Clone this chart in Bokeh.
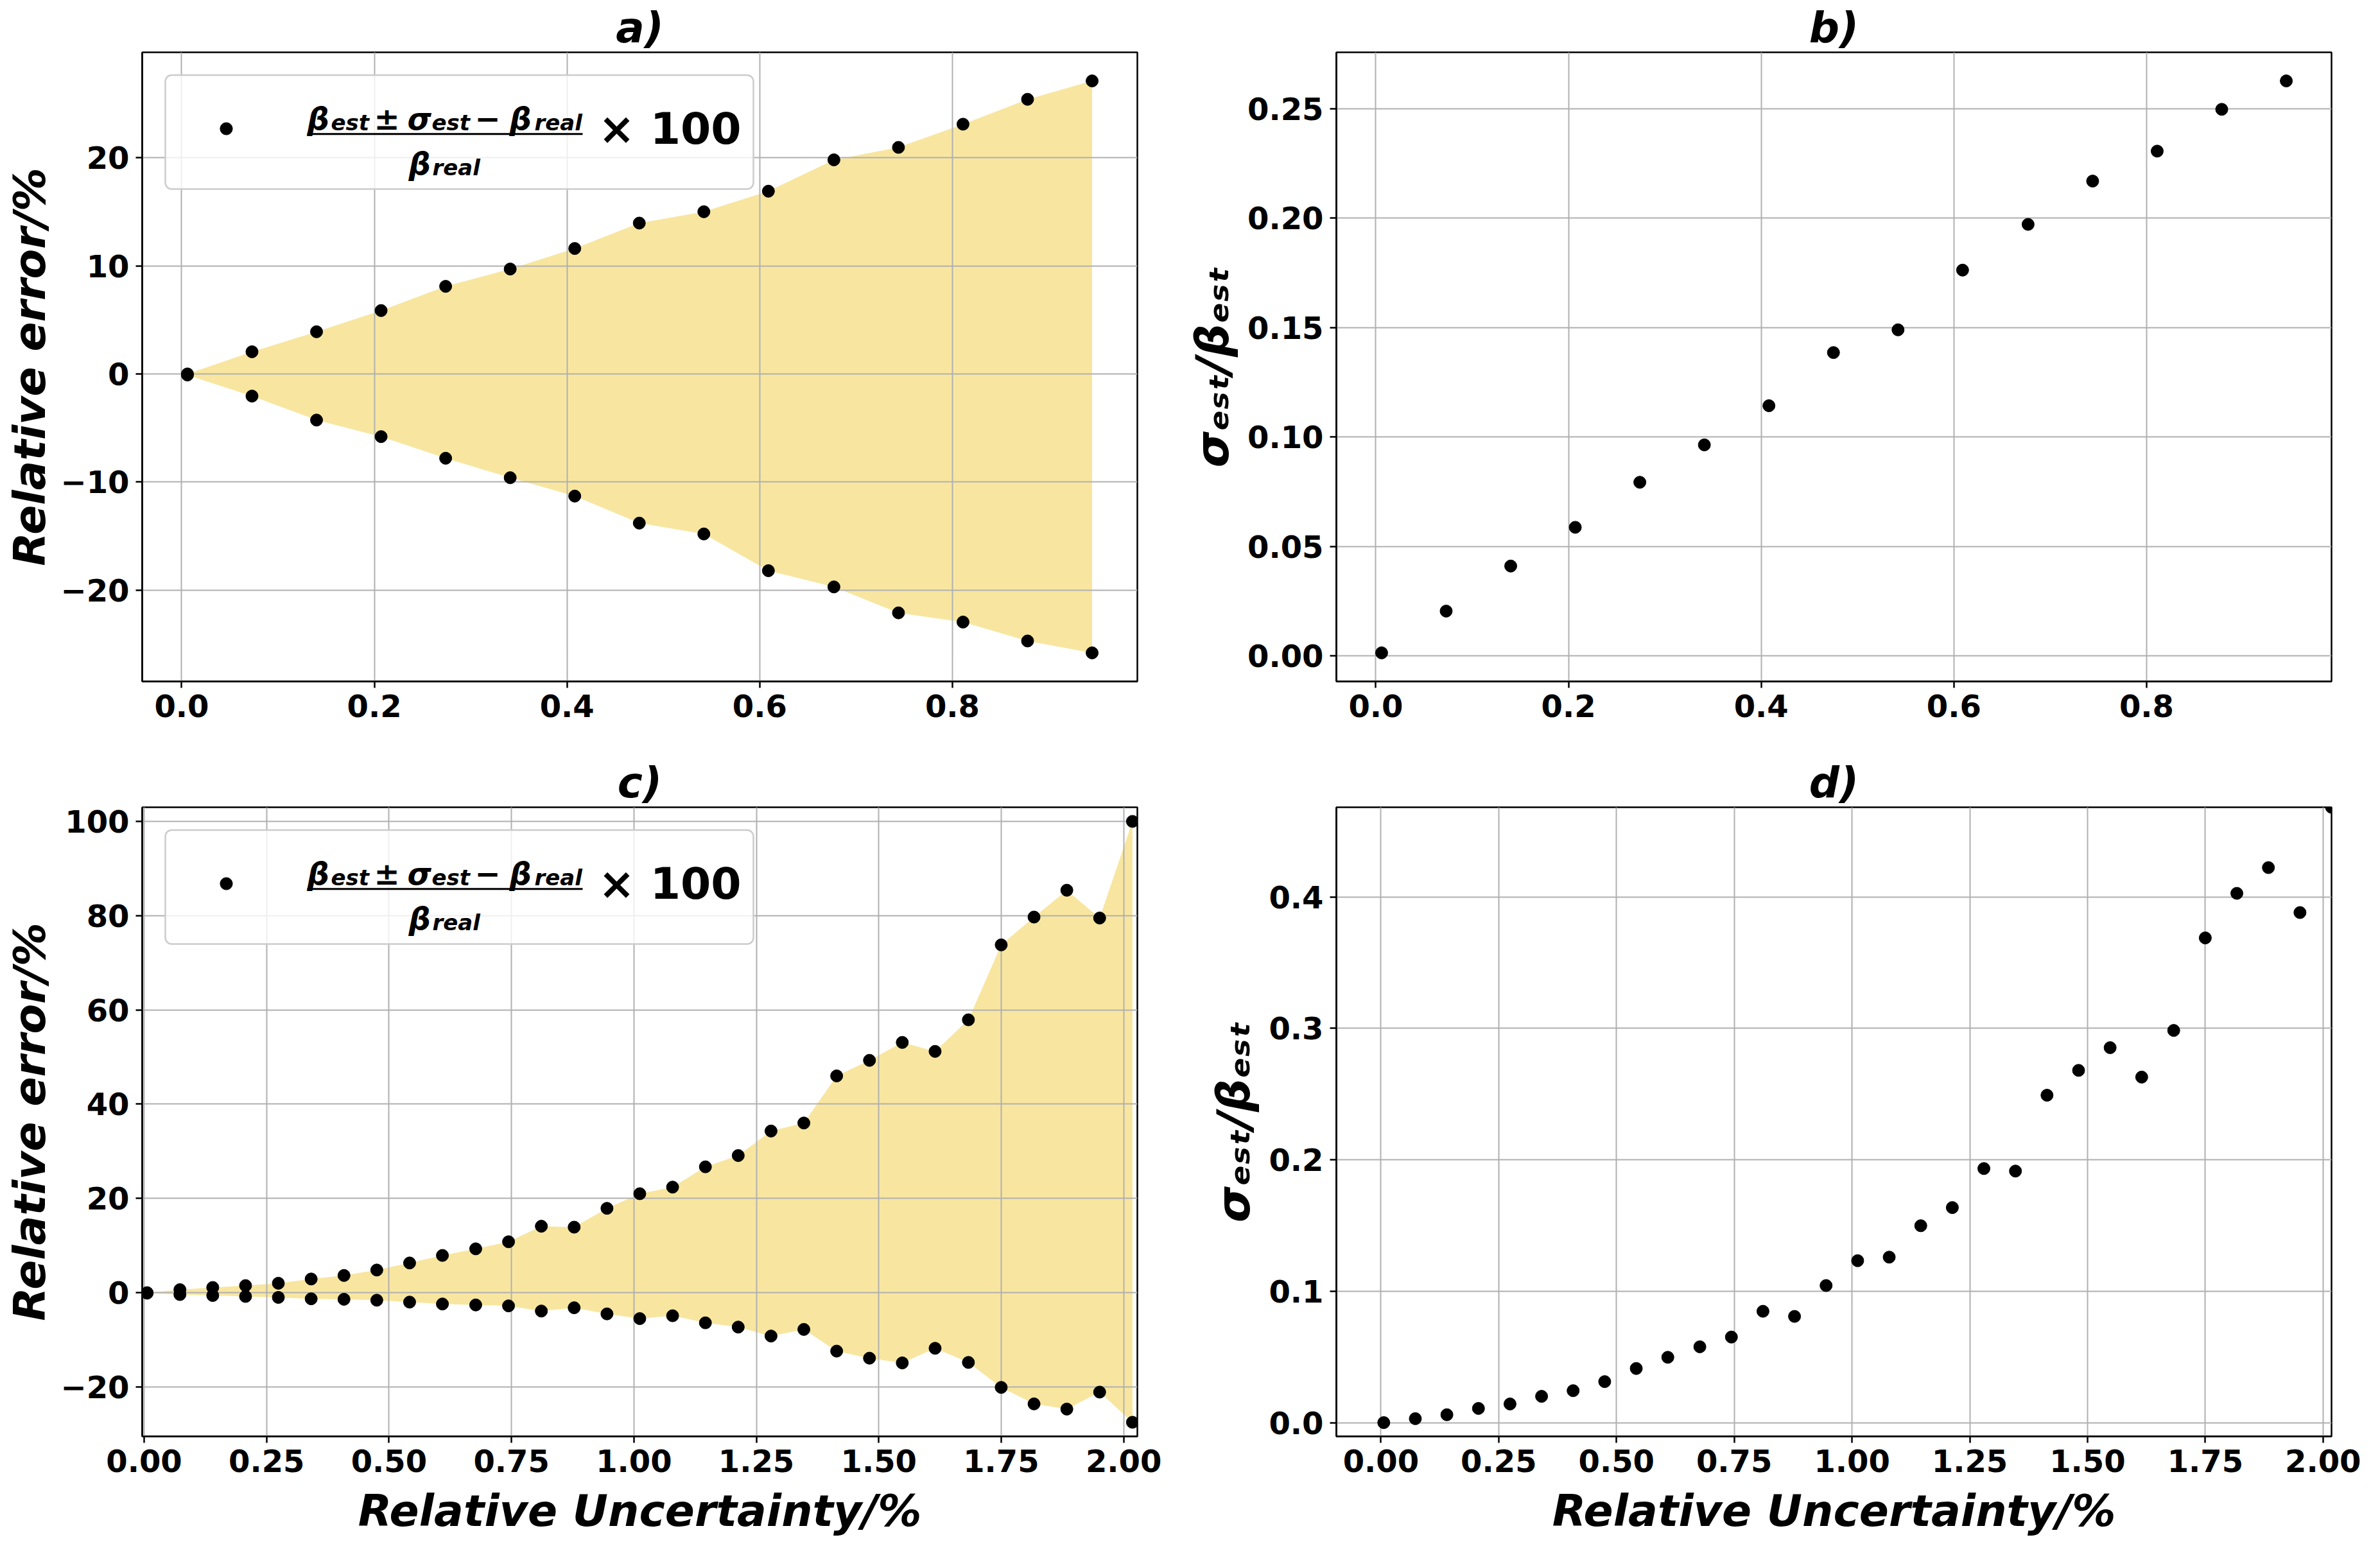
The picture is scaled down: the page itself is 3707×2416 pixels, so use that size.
import numpy as np
from bokeh.plotting import figure
from bokeh.layouts import column, row
from bokeh.models import (Range1d, FixedTicker, Label, BoxAnnotation, Legend,
                          LegendItem, CustomJSTickFormatter)
from bokeh.embed import file_html
from bokeh.resources import INLINE

# ---------------- data ----------------
x_top = [0.006, 0.073, 0.140, 0.207, 0.274, 0.341, 0.408, 0.475, 0.542, 0.609,
         0.677, 0.744, 0.811, 0.878, 0.945]
err_top_upper = [0.0, 2.05, 3.9, 5.86, 8.1, 9.7, 11.6, 13.95, 15.0, 16.9,
                 19.8, 20.95, 23.1, 25.4, 27.1]
err_top_lower = [-0.1, -2.05, -4.27, -5.8, -7.8, -9.6, -11.3, -13.8, -14.8, -18.2,
                 -19.7, -22.1, -22.95, -24.7, -25.8]
ratio_top = [0.0013, 0.0204, 0.041, 0.0587, 0.0793, 0.0964, 0.1143, 0.1386, 0.149,
             0.1763, 0.1972, 0.217, 0.2307, 0.2498, 0.2628]

x_bot = [0.006, 0.073, 0.140, 0.207, 0.274, 0.341, 0.408, 0.475, 0.542, 0.609,
         0.677, 0.744, 0.811, 0.878, 0.945, 1.012, 1.079, 1.146, 1.213, 1.280,
         1.347, 1.414, 1.481, 1.548, 1.615, 1.683, 1.750, 1.817, 1.884, 1.951, 2.018]
err_bot_upper = [0.0, 0.64, 1.1, 1.5, 2.0, 2.9, 3.65, 4.8, 6.3, 7.9,
                 9.3, 10.8, 14.1, 13.9, 17.9, 21.0, 22.4, 26.7, 29.1, 34.3,
                 36.0, 46.0, 49.3, 53.1, 51.2, 57.9, 73.8, 79.7, 85.4, 79.5, 100.0]
err_bot_lower = [-0.1, -0.4, -0.6, -0.8, -1.0, -1.3, -1.4, -1.6, -2.0, -2.4,
                 -2.6, -2.8, -3.9, -3.2, -4.5, -5.5, -4.9, -6.4, -7.3, -9.2,
                 -7.8, -12.4, -13.9, -14.9, -11.8, -14.8, -20.1, -23.6, -24.7, -21.1, -27.5]
ratio_bot = [0.0, 0.003, 0.006, 0.0108, 0.0142, 0.020, 0.0243, 0.0312, 0.0412, 0.0497,
             0.0577, 0.0651, 0.0847, 0.0808, 0.1043, 0.1232, 0.1259, 0.1498, 0.1636, 0.1933,
             0.1914, 0.2491, 0.268, 0.2853, 0.2629, 0.2984, 0.3688, 0.4027, 0.4223, 0.3881, 0.4682]

ticks_x_top = [0.0, 0.2, 0.4, 0.6, 0.8]
ticks_y_a = [-20, -10, 0, 10, 20]
ticks_y_b = [0.0, 0.05, 0.10, 0.15, 0.20, 0.25]
ticks_x_bot = [0.0, 0.25, 0.5, 0.75, 1.0, 1.25, 1.5, 1.75, 2.0]
ticks_y_c = [-20, 0, 20, 40, 60, 80, 100]
ticks_y_d = [0.0, 0.1, 0.2, 0.3, 0.4]

titles = ["a)", "b)", "c)", "d)"]
ylabel_err = "Relative error/%"
ylabel_ratio = "\u03c3\u2091\u209b\u209c/\u03b2\u2091\u209b\u209c"
xlabel_unc = "Relative Uncertainty/%"

# ---------------- style ----------------
FONT = "DejaVu Sans"
FILL = "#f8e6a0"
FW, FH = 1550, 980
MS = 19


def fmt(nd):
    return CustomJSTickFormatter(code=(
        "const s = Math.abs(tick).toFixed(%d); return tick < -1e-9 ? '\\u2212' + s : s;" % nd))


def pad_range(vals, frac=0.05):
    lo, hi = min(vals), max(vals)
    m = (hi - lo) * frac
    return lo - m, hi + m


def make_fig(title, xr, yr, left, right, top, bottom):
    p = figure(frame_width=FW, frame_height=FH, x_range=Range1d(*xr), y_range=Range1d(*yr),
               min_border_left=left, min_border_right=right, min_border_top=top,
               min_border_bottom=bottom, toolbar_location=None, output_backend="svg",
               background_fill_color="white", border_fill_color="white")
    p.title.text = title
    p.title.align = "center"
    p.title.text_font = FONT
    p.title.text_font_size = "66px"
    p.title.text_font_style = "bold italic"
    p.title.text_color = "black"
    p.title.standoff = 0
    p.outline_line_color = "black"
    p.outline_line_width = 2.5
    p.outline_line_alpha = 1.0
    for ax in (p.xaxis, p.yaxis):
        ax.axis_line_color = "black"
        ax.axis_line_width = 2.5
        ax.major_tick_line_color = "black"
        ax.major_tick_line_width = 2.5
        ax.major_tick_out = 10
        ax.major_tick_in = 0
        ax.minor_tick_line_color = None
        ax.major_label_text_font = FONT
        ax.major_label_text_font_size = "48px"
        ax.major_label_text_font_style = "bold"
        ax.major_label_text_color = "black"
        ax.major_label_standoff = 10
        ax.axis_label_text_font = FONT
        ax.axis_label_text_font_size = "68px"
        ax.axis_label_text_font_style = "bold italic"
        ax.axis_label_text_color = "black"
    for g in (p.xgrid, p.ygrid):
        g.grid_line_color = "#b0b0b0"
        g.grid_line_width = 2
    return p


def set_ticks(p, xt, xnd, yt, ynd):
    p.xaxis.ticker = FixedTicker(ticks=xt)
    p.xaxis.formatter = fmt(xnd)
    p.yaxis.ticker = FixedTicker(ticks=yt)
    p.yaxis.formatter = fmt(ynd)


def lab(p, text, x, y, size, style="bold italic", angle=0.0):
    p.add_layout(Label(x=x, y=y, x_units="screen", y_units="screen", text=text,
                       text_font=FONT, text_font_size="%dpx" % size, text_font_style=style,
                       text_color="black", text_align="left", text_baseline="alphabetic",
                       angle=angle))


def formula_legend(p, renderer):
    # offsets measured from the top-left corner of the frame
    def sy(d):
        return FH - d
    p.add_layout(BoxAnnotation(left=36, right=952, top=sy(35.5), bottom=sy(213),
                               left_units="screen", right_units="screen",
                               top_units="screen", bottom_units="screen",
                               fill_color="white", fill_alpha=0.8, line_color="#cccccc",
                               line_alpha=1.0, line_width=2.5, border_radius=10))
    leg = Legend(items=[LegendItem(label="\u00d7 100", renderers=[renderer])],
                 location=(107, sy(119.3) - 50), padding=0, margin=0, spacing=0,
                 glyph_width=48, glyph_height=100, label_standoff=556,
                 label_text_font=FONT, label_text_font_size="68px",
                 label_text_font_style="bold", label_text_color="black",
                 border_line_alpha=0, background_fill_alpha=0)
    p.add_layout(leg)
    # numerator
    nb, sb = sy(103.3), sy(109.3)
    lab(p, "\u03b2", 257, nb, 48)
    lab(p, "est", 294, sb, 34)
    lab(p, "\u00b1", 361, nb, 48, style="bold")
    lab(p, "\u03c3", 413, nb, 48)
    lab(p, "est", 451, sb, 34)
    lab(p, "\u2212", 518, nb, 48, style="bold")
    lab(p, "\u03b2", 572, nb, 48)
    lab(p, "real", 611, sb, 34)
    # fraction bar
    p.add_layout(BoxAnnotation(left=257, right=686, top=sy(125.8), bottom=sy(128.8),
                               left_units="screen", right_units="screen",
                               top_units="screen", bottom_units="screen",
                               fill_color="black", fill_alpha=1.0, line_color=None))
    # denominator
    lab(p, "\u03b2", 415, sy(173.3), 48)
    lab(p, "real", 452, sy(179.3), 34)


# ---------------- panel a ----------------
pa = make_fig(titles[0], pad_range(x_top), pad_range(err_top_lower + err_top_upper),
              221, 69, 81, 89)
set_ticks(pa, ticks_x_top, 1, ticks_y_a, 0)
pa.yaxis.axis_label = ylabel_err
pa.yaxis.axis_label_standoff = 5
fa = pa.varea(x=x_top, y1=err_top_lower, y2=err_top_upper, fill_color=FILL, fill_alpha=1.0)
fa.level = "image"
ra = pa.scatter(x_top, err_top_upper, size=MS, color="black")
pa.scatter(x_top, err_top_lower, size=MS, color="black")
formula_legend(pa, ra)

# ---------------- panel b ----------------
pb = make_fig(titles[1], pad_range(x_top), pad_range(ratio_top), 241, 60, 81, 89)
set_ticks(pb, ticks_x_top, 1, ticks_y_b, 2)
pb.yaxis.axis_label = ylabel_ratio
pb.yaxis.axis_label_text_font_size = "72px"
pb.yaxis.axis_label_standoff = 10
pb.scatter(x_top, ratio_top, size=MS, color="black")

# ---------------- panel c ----------------
cx = (min(x_bot) - 0.01, max(x_bot) + 0.01)
cy = (min(err_bot_lower) - 3, max(err_bot_upper) + 3)
pc = make_fig(titles[2], cx, cy, 221, 69, 107, 163)
set_ticks(pc, ticks_x_bot, 2, ticks_y_c, 0)
pc.yaxis.axis_label = ylabel_err
pc.yaxis.axis_label_standoff = 5
pc.xaxis.axis_label = xlabel_unc
pc.xaxis.axis_label_standoff = 18
fc = pc.varea(x=x_bot, y1=err_bot_lower, y2=err_bot_upper, fill_color=FILL, fill_alpha=1.0)
fc.level = "image"
rc = pc.scatter(x_bot, err_bot_upper, size=MS, color="black")
pc.scatter(x_bot, err_bot_lower, size=MS, color="black")
formula_legend(pc, rc)

# ---------------- panel d ----------------
dx = (pad_range(x_bot)[0], max(x_bot))
dy = (-0.0105, max(ratio_bot))
pd_ = make_fig(titles[3], dx, dy, 241, 60, 107, 163)
set_ticks(pd_, ticks_x_bot, 2, ticks_y_d, 1)
pd_.xaxis.axis_label = xlabel_unc
pd_.xaxis.axis_label_standoff = 18
pd_.yaxis.axis_label = ylabel_ratio
pd_.yaxis.axis_label_text_font_size = "72px"
pd_.yaxis.axis_label_standoff = 10
pd_.scatter(x_bot, ratio_bot, size=MS, color="black")

layout = column(row(pa, pb), row(pc, pd_))

with open("out.html", "w") as f:
    f.write(file_html(layout, INLINE))
